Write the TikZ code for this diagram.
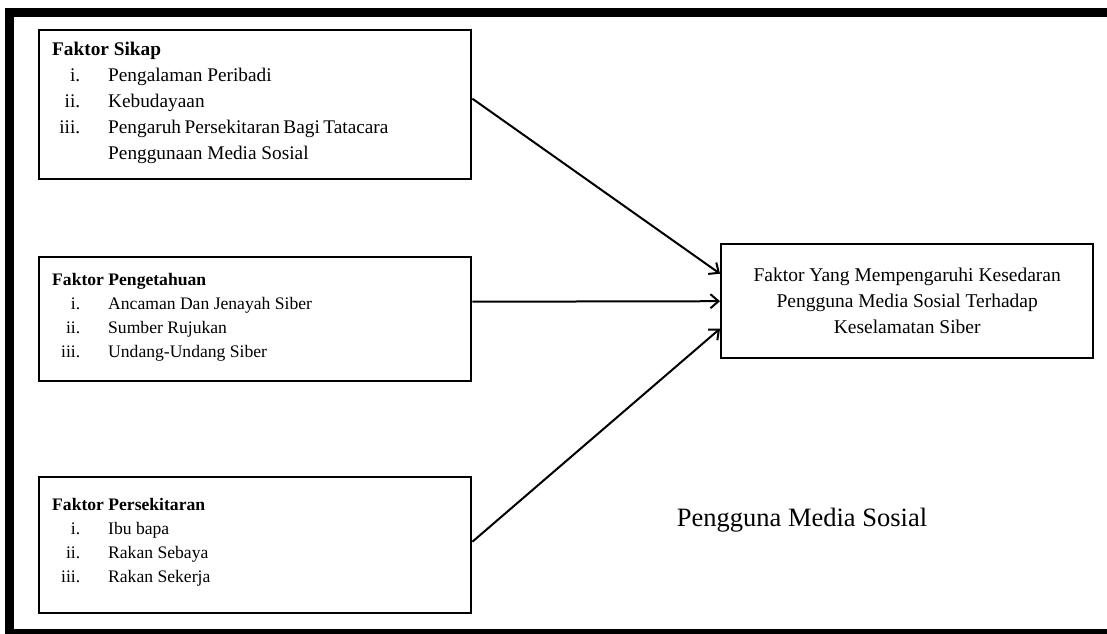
\documentclass[tikz,border=0pt]{standalone}
\usepackage{fontspec}
\setmainfont{Liberation Serif}
\usetikzlibrary{arrows.meta}
\newcommand{\itm}[2]{\makebox[28pt][r]{#1}\hspace{28pt}#2}

\begin{document}
\begin{tikzpicture}[x=1pt, y=-1pt,
        factor/.style={draw, line width=2.4pt, anchor=north west, inner sep=0pt},
        itemlist/.style 2 args={anchor=north west, align=left, inner sep=0pt,
            font=\fontsize{#1}{#2}\selectfont},
        link/.style={line width=2pt, -{Straight Barb[length=8pt, width=14pt]}}
    ]
    \useasboundingbox (0,0) rectangle (1107,633);
    \begin{scope}
        \clip (0,0) rectangle (1107,633);
        \draw[line width=9pt] (1120,12) -- (9.5,12) -- (9.5,633.5) -- (1120,633.5);
    \end{scope}

    \node[factor, minimum width=432pt, minimum height=149pt] (sikap) at (38,29) {};
    \node[factor, minimum width=432pt, minimum height=124pt] (tahu) at (38,256) {};
    \node[factor, minimum width=432pt, minimum height=136pt] (sekitar) at (38,476) {};
    \node[factor, minimum width=372pt, minimum height=114pt, align=center,
        font=\fontsize{19.5}{26}\selectfont] (kesedaran) at (720,243)
        {Faktor Yang Mempengaruhi Kesedaran\\Pengguna Media Sosial Terhadap\\Keselamatan Siber};

    \node[itemlist={19.3}{26}] (sikaplist) at (52,42) {\textbf{Faktor Sikap}\\
        \itm{i.}{Pengalaman Peribadi}\\
        \itm{ii.}{Kebudayaan}\\
        \itm{iii.}{\spaceskip=0.18em Pengaruh Persekitaran Bagi Tatacara}\\
        \itm{}{Penggunaan Media Sosial}};
    \node[itemlist={17.6}{24}] (tahulist) at (52,273) {\textbf{Faktor Pengetahuan}\\
        \itm{i.}{Ancaman Dan Jenayah Siber}\\
        \itm{ii.}{Sumber Rujukan}\\
        \itm{iii.}{Undang-Undang Siber}};
    \node[itemlist={17.6}{24}] (sekitarlist) at (52,498) {\textbf{Faktor Persekitaran}\\
        \itm{i.}{Ibu bapa}\\
        \itm{ii.}{Rakan Sebaya}\\
        \itm{iii.}{Rakan Sekerja}};

    \node[font=\fontsize{26.5}{30}\selectfont] (pengguna) at (802,520) {Pengguna Media Sosial};

    \draw[link] ([yshift=6pt]sikap.east) -- ([yshift=27.5pt]kesedaran.west);
    \draw[link] ([yshift=17.5pt]tahu.east) -- (kesedaran.west);
    \draw[link] ([yshift=3.5pt]sekitar.east) -- ([yshift=-27.5pt]kesedaran.west);
\end{tikzpicture}
\end{document}
